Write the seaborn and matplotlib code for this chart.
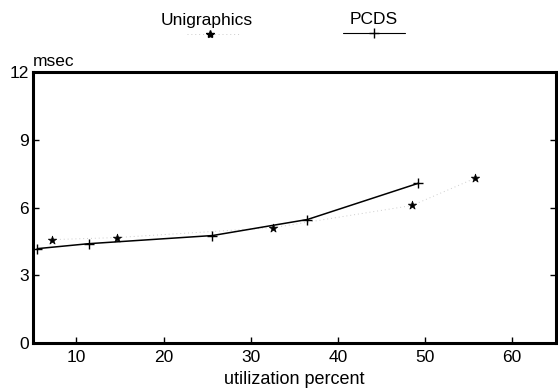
import matplotlib
matplotlib.use("Agg")
import matplotlib.pyplot as plt
from matplotlib.lines import Line2D
import seaborn as sns
import pandas as pd

# PCDS series (+ markers, solid line)
pcds_util = [5.5, 11.4, 25.6, 36.5, 49.2]
pcds_msec = [4.18, 4.40, 4.76, 5.47, 7.07]

# Unigraphics series (* markers, faint dotted line)
ug_util = [7.2, 14.6, 32.6, 48.5, 55.7]
ug_msec = [4.58, 4.67, 5.11, 6.09, 7.29]

x_ticks = [10, 20, 30, 40, 50, 60]
y_ticks = [0, 3, 6, 9, 12]

sns.set_style("ticks")
plt.rcParams['font.family'] = ['Liberation Sans', 'DejaVu Sans']
plt.rcParams['text.color'] = 'black'
plt.rcParams['axes.labelcolor'] = 'black'
plt.rcParams['xtick.color'] = 'black'
plt.rcParams['ytick.color'] = 'black'
plt.rcParams['axes.edgecolor'] = 'black'

fig = plt.figure(figsize=(5.58, 3.89), dpi=100)
ax = fig.add_axes([0.059, 0.118, 0.937, 0.697])

df_p = pd.DataFrame({"u": pcds_util, "m": pcds_msec})
df_u = pd.DataFrame({"u": ug_util, "m": ug_msec})

sns.lineplot(data=df_u, x="u", y="m", ax=ax, color="#cccccc", lw=0.7,
             linestyle=(0, (1, 3)), sort=False)
sns.scatterplot(data=df_u, x="u", y="m", ax=ax, marker="*", s=40,
                color="black", edgecolor="black", linewidth=0.5, zorder=3)
sns.lineplot(data=df_p, x="u", y="m", ax=ax, color="black", lw=1.1,
             marker="+", markersize=6.5, markeredgewidth=1.0,
             markeredgecolor="black", sort=False)

ax.set_xlim(5, 65)
ax.set_ylim(0, 12)
ax.set_xticks(x_ticks)
ax.set_yticks(y_ticks)
ax.set_xticklabels([str(t) for t in x_ticks], fontsize=12.5)
ax.set_yticklabels([str(t) for t in y_ticks], fontsize=12.5)
ax.tick_params(axis='both', direction='in', length=4, width=1,
               top=False, right=True, colors='black')
ax.tick_params(axis='x', pad=5)
ax.tick_params(axis='y', pad=3)
for sp in ax.spines.values():
    sp.set_visible(True)
    sp.set_linewidth(2.2)
    sp.set_color('black')
ax.set_xlabel("utilization percent", fontsize=13, labelpad=4)
ax.set_ylabel("")
ax.text(0.0, 1.01, "msec", transform=ax.transAxes, fontsize=12.5,
        ha="left", va="bottom")

# Custom legend at top
fig.text(207 / 558, 1 - 20 / 389, "Unigraphics", fontsize=12.5, ha="center", va="center")
fig.text(374 / 558, 1 - 20 / 389, "PCDS", fontsize=12.5, ha="center", va="center")
fig.add_artist(Line2D([187 / 558, 240 / 558], [1 - 34 / 389, 1 - 34 / 389],
                      transform=fig.transFigure, color="#cccccc", lw=0.7,
                      linestyle=(0, (1, 3))))
fig.add_artist(Line2D([210 / 558], [1 - 34 / 389], transform=fig.transFigure,
                      marker="*", markersize=6, color="black", lw=0))
fig.add_artist(Line2D([343 / 558, 405 / 558], [1 - 33 / 389, 1 - 33 / 389],
                      transform=fig.transFigure, color="black", lw=0.8))
fig.add_artist(Line2D([374 / 558], [1 - 33 / 389], transform=fig.transFigure,
                      marker="+", markersize=7, markeredgewidth=1.0, color="black", lw=0))

fig.savefig("out.png", dpi=100)
